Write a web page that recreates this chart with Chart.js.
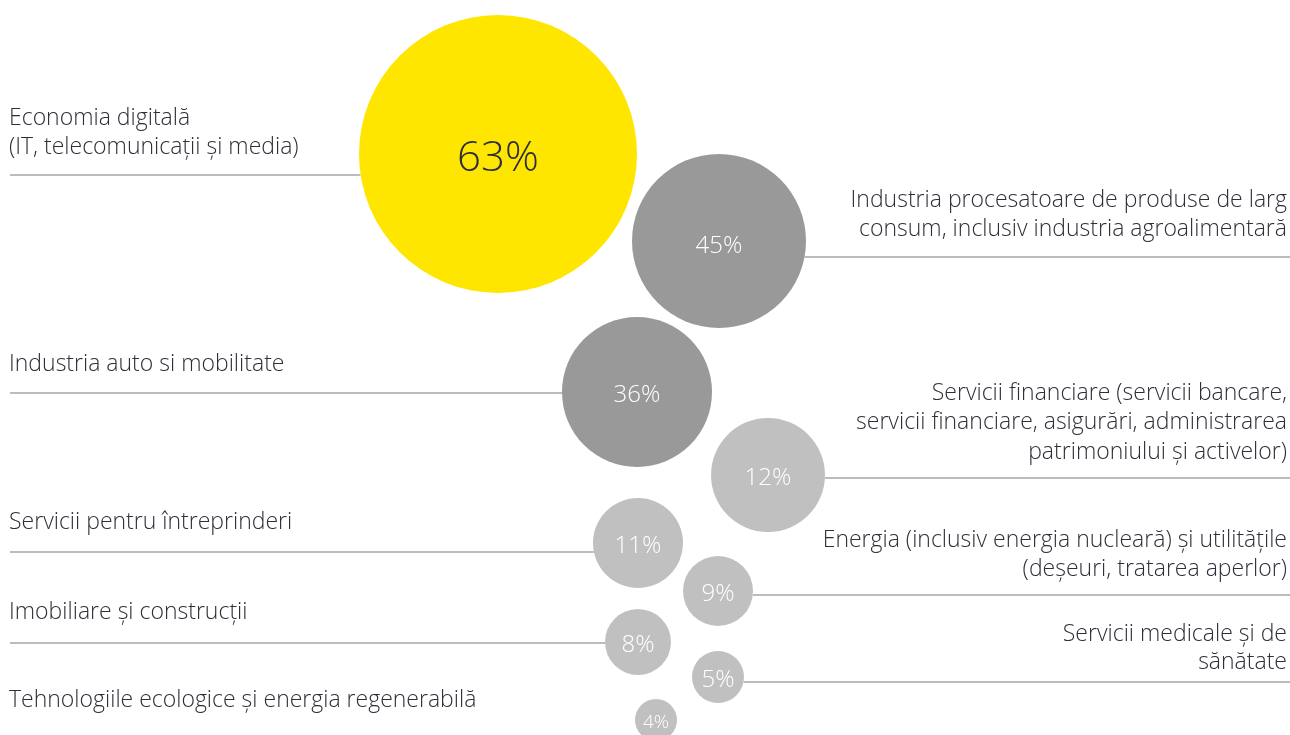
<!DOCTYPE html>
<html>
<head>
<meta charset="utf-8">
<script src="https://cdn.jsdelivr.net/npm/chart.js@4/dist/chart.umd.min.js"></script>
<style>
  html, body { margin: 0; padding: 0; background: #fff; }
  #wrap { width: 1290px; height: 735px; position: relative; }
</style>
</head>
<body>
<div id="wrap"><canvas id="bubbles"></canvas></div>
<script>
// sectors and their share (%)
const categories = [
    ['Economia digitală', '(IT, telecomunicații și media)'],
    ['Industria procesatoare de produse de larg', 'consum, inclusiv industria agroalimentară'],
    ['Industria auto si mobilitate'],
    ['Servicii financiare (servicii bancare,', 'servicii financiare, asigurări, administrarea', 'patrimoniului și activelor)'],
    ['Servicii pentru întreprinderi'],
    ['Energia (inclusiv energia nucleară) și utilitățile', '(deșeuri, tratarea aperlor)'],
    ['Imobiliare și construcții'],
    ['Servicii medicale și de', 'sănătate'],
    ['Tehnologiile ecologice și energia regenerabilă']
];
const values = [63, 45, 36, 12, 11, 9, 8, 5, 4];

// layout (not data): where each bubble sits, its radius, label side, label top and leader line level
const bubbleX = [498, 719, 637, 768, 638, 718, 638, 718, 656];
const bubbleY = [154, 241, 392, 475, 543, 591, 642, 677, 720];
const bubbleR = [139, 87, 75, 57, 45, 35, 33, 26, 21];
const labelSide = ['left', 'right', 'left', 'right', 'left', 'right', 'left', 'right', 'left'];
const labelTop = [118, 200, 364, 393, 522, 540, 612, 634, 700];
const lineY = [175, 257, 393, 478, 552, 595, 643, 682, 736];

const YELLOW = '#ffe600';
const DARK = '#999999';
const LIGHT = '#c0c0c0';
const colors = values.map(v => v >= 60 ? YELLOW : (v >= 30 ? DARK : LIGHT));
const TEXT = '#2e2e38';
const FONT = '"Open Sans", sans-serif';

const labelPlugin = {
    id: 'labelPlugin',
    beforeDatasetsDraw(chart) {
        const ctx = chart.ctx;
        const xs = chart.scales.x;
        const ys = chart.scales.y;
        ctx.save();
        ctx.strokeStyle = '#a6a6a6';
        ctx.lineWidth = 1.5;
        values.forEach((v, i) => {
            const cx = xs.getPixelForValue(bubbleX[i]);
            const cy = ys.getPixelForValue(bubbleY[i]);
            const ly = ys.getPixelForValue(lineY[i]);
            const dy = ly - cy;
            const half = Math.abs(dy) < bubbleR[i] ? Math.sqrt(bubbleR[i] * bubbleR[i] - dy * dy) : 0;
            ctx.beginPath();
            if (labelSide[i] === 'left') {
                ctx.moveTo(xs.left + 10, ly);
                ctx.lineTo(cx - half, ly);
            } else {
                ctx.moveTo(cx + half, ly);
                ctx.lineTo(xs.right, ly);
            }
            ctx.stroke();
        });
        ctx.restore();
    },
    afterDatasetsDraw(chart) {
        const ctx = chart.ctx;
        const xs = chart.scales.x;
        const ys = chart.scales.y;
        ctx.save();
        // sector names above their lines
        ctx.font = '300 23px ' + FONT;
        ctx.fillStyle = TEXT;
        ctx.textBaseline = 'middle';
        categories.forEach((lines, i) => {
            const top = ys.getPixelForValue(labelTop[i]);
            const gap = lines.length === 2 && labelSide[i] === 'right' && i === 7 ? 28 : 29.5;
            lines.forEach((t, k) => {
                const y = top + k * gap;
                if (labelSide[i] === 'left') {
                    ctx.textAlign = 'left';
                    ctx.fillText(t, xs.left + 9, y);
                } else {
                    ctx.textAlign = 'right';
                    ctx.fillText(t, xs.right - 3, y);
                }
            });
        });
        // percentages inside bubbles
        ctx.textAlign = 'center';
        const meta = chart.getDatasetMeta(0);
        meta.data.forEach((pt, i) => {
            const size = i === 0 ? 42 : (values[i] <= 4 ? 19 : 24);
            ctx.font = '300 ' + size + 'px ' + FONT;
            ctx.fillStyle = i === 0 ? TEXT : '#ffffff';
            ctx.fillText(values[i] + '%', pt.x, pt.y + (i < 2 ? 5 : 3));
        });
        ctx.restore();
    }
};

const data = {
    datasets: [{
        label: 'Sectoare',
        data: values.map((v, i) => ({ x: bubbleX[i], y: bubbleY[i], r: bubbleR[i] })),
        backgroundColor: colors,
        borderWidth: 0,
        hoverRadius: 0,
        clip: false
    }]
};

const configChart = {
    type: 'bubble',
    data: data,
    options: {
        responsive: false,
        animation: false,
        layout: { padding: 0, autoPadding: false },
        scales: {
            x: { type: 'linear', min: 0, max: 1290, display: false },
            y: { type: 'linear', min: 0, max: 735, reverse: true, display: false }
        },
        plugins: {
            legend: { display: false },
            tooltip: { enabled: false }
        }
    },
    plugins: [labelPlugin]
};

const canvas = document.getElementById('bubbles');
canvas.width = 1290;
canvas.height = 735;
let chart = new Chart(canvas, configChart);
</script>
</body>
</html>
